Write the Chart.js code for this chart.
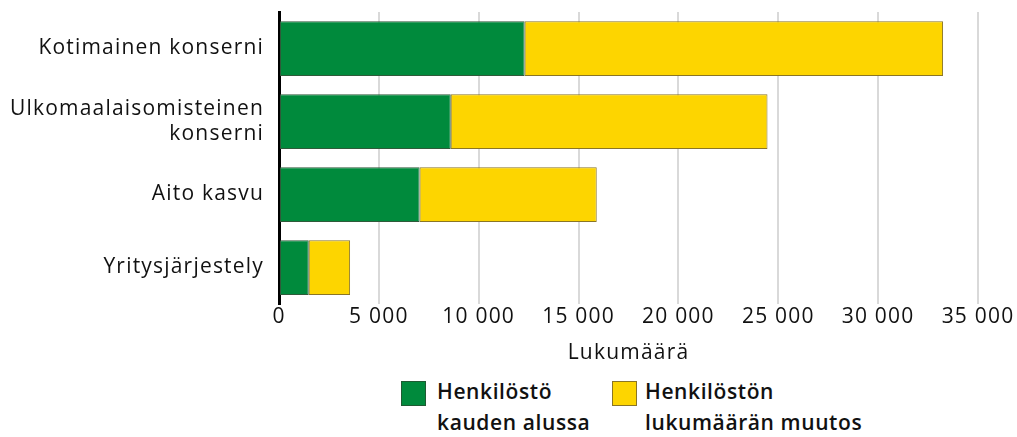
<!DOCTYPE html>
<html>
<head>
<meta charset="utf-8">
<script src="https://cdn.jsdelivr.net/npm/chart.js@4.4.0/dist/chart.umd.min.js"></script>
<style>
  html, body { margin: 0; padding: 0; background: #fff; }
  #wrap { position: relative; width: 1017px; height: 437px; }
  #myChart { position: absolute; left: 0; top: 0; }
  .legend { position: absolute; top: 380px; font-family: "Open Sans", sans-serif;
            font-size: 21px; font-weight: 600; line-height: 31px; color: #111; letter-spacing: 0.6px; }
  .legend .box { position: absolute; left: 0; top: 1px; width: 23px; height: 23px; border: 1px solid; }
  .legend .txt { position: absolute; top: -4px; white-space: nowrap; }
</style>
</head>
<body>
<div id="wrap">
  <canvas id="myChart" width="1017" height="370"></canvas>
  <div class="legend" style="left:401px">
    <div class="box" style="background:#008a3c;border-color:#1f5a32"></div>
    <div class="txt" style="left:36px">Henkilöstö<br>kauden alussa</div>
  </div>
  <div class="legend" style="left:612px">
    <div class="box" style="background:#fdd500;border-color:#8a7525"></div>
    <div class="txt" style="left:33px">Henkilöstön<br>lukumäärän muutos</div>
  </div>
</div>
<script>
const categories = [
  'Kotimainen konserni',
  ['Ulkomaalaisomisteinen', 'konserni'],
  'Aito kasvu',
  'Yritysjärjestely'
];
const alussa = [12300, 8600, 7040, 1490];
const muutos = [20950, 15860, 8870, 2070];
const xTicks = [0, 5000, 10000, 15000, 20000, 25000, 30000, 35000];

const font = { family: '"Open Sans", sans-serif', size: 21 };

// the original font is wider, so spread the letters a bit
const spacing = {
  id: 'spacing',
  beforeUpdate(chart) { chart.ctx.letterSpacing = '1.2px'; },
  beforeDraw(chart) { chart.ctx.letterSpacing = '1.2px'; }
};

var ctx = document.getElementById('myChart').getContext('2d');
var chart = new Chart(ctx, {
  type: 'bar',
  plugins: [spacing],
  data: {
    labels: categories,
    datasets: [{
      label: 'Henkilöstö kauden alussa',
      data: alussa,
      backgroundColor: '#008a3c',
      borderColor: '#2f5a3a',
      borderWidth: 1,
      borderSkipped: false
    }, {
      label: 'Henkilöstön lukumäärän muutos',
      data: muutos,
      backgroundColor: '#fdd500',
      borderColor: '#8a7525',
      borderWidth: 1,
      borderSkipped: false
    }]
  },
  options: {
    indexAxis: 'y',
    responsive: false,
    animation: false,
    layout: { padding: { top: 12, right: 39, left: 0, bottom: 0 } },
    plugins: { legend: { display: false }, tooltip: { enabled: false } },
    datasets: { bar: { categoryPercentage: 0.75, barPercentage: 1 } },
    scales: {
      x: {
        stacked: true,
        min: 0,
        max: 35000,
        afterBuildTicks: s => { s.ticks = xTicks.map(v => ({ value: v })); },
        grid: { color: '#d9d9d9', lineWidth: 2, drawTicks: false },
        border: { display: false },
        ticks: {
          color: '#111', font: font, padding: 0, maxRotation: 0,
          callback: v => String(v).replace(/\B(?=(\d{3})+(?!\d))/g, ' ')
        },
        title: { display: true, text: 'Lukumäärä', color: '#111', font: font, padding: { top: 1 } },
        afterFit: s => { s.height = 66; s.paddingLeft = 0; s.paddingRight = 0; }
      },
      y: {
        stacked: true,
        grid: { display: false, drawTicks: false },
        border: { display: true, color: '#000', width: 3 },
        ticks: { color: '#111', font: font, padding: 15, lineHeight: 1.4 },
        afterFit: s => { s.width = 279; s.paddingTop = 0; s.paddingBottom = 0; }
      }
    }
  }
});
</script>
</body>
</html>
